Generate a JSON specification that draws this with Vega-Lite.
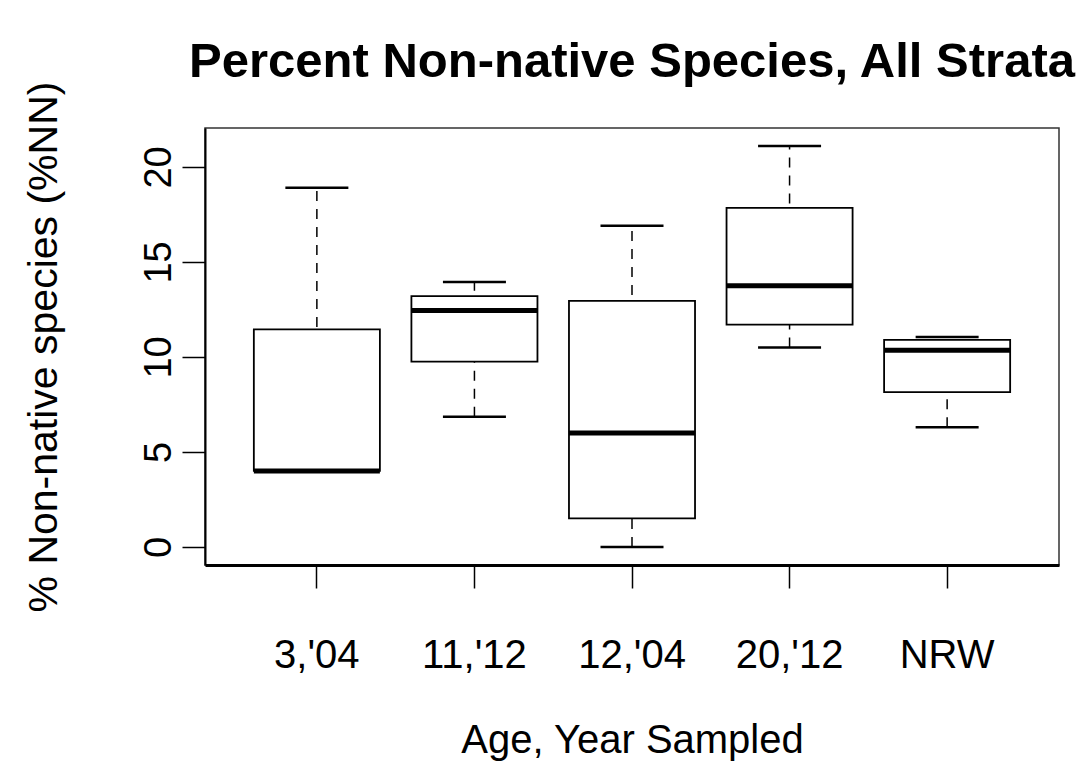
{
  "$schema": "https://vega.github.io/schema/vega-lite/v6.json",
  "width": 854,
  "height": 437,
  "autosize": {"type": "none"},
  "padding": {"left": 205, "top": 128, "right": 29, "bottom": 199},
  "background": "white",
  "title": {
    "text": "Percent Non-native Species, All Strata",
    "font": "Liberation Sans",
    "fontSize": 49,
    "fontWeight": "bold",
    "color": "black",
    "anchor": "middle",
    "offset": -6
  },
  "config": {
    "view": {"stroke": "#333", "strokeWidth": 1.5},
    "font": "Liberation Sans"
  },
  "data": {
    "values": [
      {"group": "3,'04", "lower": 4.0, "q1": 4.0, "median": 4.0, "q3": 11.45, "upper": 18.9},
      {"group": "11,'12", "lower": 6.85, "q1": 9.75, "median": 12.45, "q3": 13.2, "upper": 13.95},
      {"group": "12,'04", "lower": 0.0, "q1": 1.5, "median": 6.0, "q3": 12.95, "upper": 16.9},
      {"group": "20,'12", "lower": 10.5, "q1": 11.7, "median": 13.75, "q3": 17.85, "upper": 21.1},
      {"group": "NRW", "lower": 6.3, "q1": 8.15, "median": 10.35, "q3": 10.9, "upper": 11.05}
    ]
  },
  "encoding": {
    "x": {
      "field": "group",
      "type": "nominal",
      "sort": null,
      "scale": {"type": "band", "paddingInner": 0.2, "paddingOuter": 0.31},
      "axis": {
        "title": "Age, Year Sampled",
        "titleFont": "Liberation Sans",
        "titleFontSize": 40,
        "titleFontWeight": "normal",
        "titleColor": "black",
        "titlePadding": 45,
        "labelFont": "Liberation Sans",
        "labelFontSize": 40,
        "labelColor": "black",
        "labelAngle": 0,
        "labelPadding": 47,
        "tickSize": 23,
        "tickColor": "black",
        "tickWidth": 1.5,
        "domain": true,
        "domainColor": "black",
        "domainWidth": 3,
        "grid": false
      }
    }
  },
  "layer": [
    {
      "mark": {"type": "rule", "color": "black", "strokeWidth": 1.5, "strokeDash": [10, 8]},
      "encoding": {
        "y": {
          "field": "lower",
          "type": "quantitative",
          "scale": {"domain": [-0.95, 22.05], "nice": false, "zero": false},
          "axis": {
            "title": "% Non-native species (%NN)",
            "titleFont": "Liberation Sans",
            "titleFontSize": 41,
            "titleFontWeight": "normal",
            "titleColor": "black",
            "titlePadding": 75,
            "values": [0, 5, 10, 15, 20],
            "labelFont": "Liberation Sans",
            "labelFontSize": 38,
            "labelColor": "black",
            "labelAngle": -90,
            "labelPadding": 4,
            "tickSize": 23,
            "tickColor": "black",
            "tickWidth": 1.5,
            "domain": true,
            "domainColor": "black",
            "domainWidth": 2,
            "grid": false
          }
        },
        "y2": {"field": "upper"}
      }
    },
    {
      "mark": {"type": "bar", "fill": "white", "stroke": "black", "strokeWidth": 1.8},
      "encoding": {
        "y": {"field": "q1", "type": "quantitative"},
        "y2": {"field": "q3"}
      }
    },
    {
      "mark": {"type": "tick", "color": "black", "opacity": 1, "size": 126, "thickness": 5, "orient": "horizontal"},
      "encoding": {"y": {"field": "median", "type": "quantitative"}}
    },
    {
      "mark": {"type": "tick", "color": "black", "opacity": 1, "size": 63, "thickness": 2.5, "orient": "horizontal"},
      "encoding": {"y": {"field": "lower", "type": "quantitative"}}
    },
    {
      "mark": {"type": "tick", "color": "black", "opacity": 1, "size": 63, "thickness": 2.5, "orient": "horizontal"},
      "encoding": {"y": {"field": "upper", "type": "quantitative"}}
    }
  ]
}
